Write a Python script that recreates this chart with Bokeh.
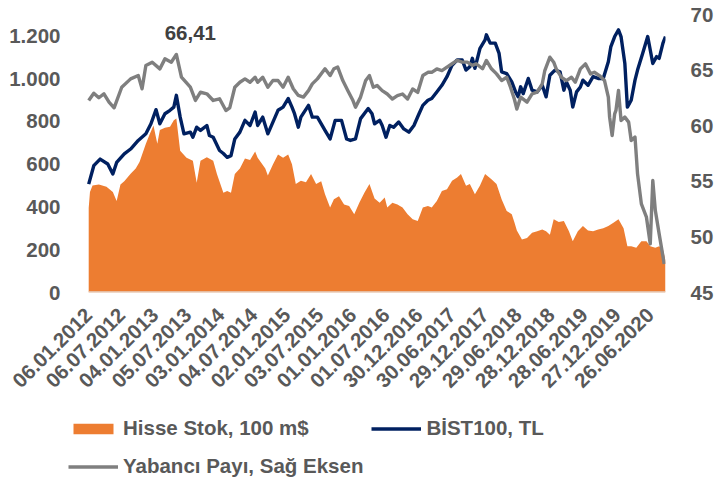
import math
import pandas as pd
from bokeh.plotting import figure
from bokeh.layouts import column
from bokeh.models import Range1d, LinearAxis, FixedTicker, Legend, LegendItem, ColumnDataSource
from bokeh.core.properties import value
from bokeh.embed import file_html
from bokeh.resources import INLINE

# ---------------- data (weekly, x = weeks since 06.01.2012) ----------------
tick_labels = ["06.01.2012", "06.07.2012", "04.01.2013", "05.07.2013", "03.01.2014",
               "04.07.2014", "02.01.2015", "03.07.2015", "01.01.2016", "01.07.2016",
               "30.12.2016", "30.06.2017", "29.12.2017", "29.06.2018", "28.12.2018",
               "28.06.2019", "27.12.2019", "26.06.2020"]

stok_weeks = [0, 1, 3, 8, 14, 19, 22, 25, 28, 33, 37, 40, 45, 48, 51, 54, 56, 60, 64, 67, 69,
              72, 77, 82, 85, 88, 93, 98, 101, 106, 109, 112, 115, 119, 123, 127, 131, 133, 139,
              141, 145, 149, 153, 157, 160, 163, 167, 171, 175, 179, 183, 186, 190, 193, 197,
              201, 205, 209, 213, 217, 221, 225, 229, 233, 235, 239, 243, 247, 251, 255, 259,
              263, 267, 270, 274, 278, 282, 286, 290, 293, 297, 300, 304, 308, 312, 317, 321,
              325, 329, 333, 335, 337, 341, 345, 349, 353, 357, 360, 363, 366, 370, 374, 378,
              381, 385, 389, 393, 397, 401, 405, 409, 413, 417, 421, 424, 427, 431, 435, 439,
              442, 446, 449, 452, 454]
stok_values = [395, 470, 500, 505, 495, 470, 428, 505, 520, 555, 580, 610, 696, 740, 781, 696,
               760, 770, 775, 805, 814, 663, 630, 616, 513, 616, 632, 616, 553, 466, 475, 466,
               554, 580, 627, 620, 659, 630, 580, 547, 599, 645, 630, 645, 600, 507, 523, 515,
               554, 507, 520, 460, 397, 436, 450, 412, 405, 366, 420, 466, 507, 440, 420, 444,
               397, 420, 412, 397, 366, 342, 334, 397, 405, 397, 428, 475, 483, 522, 538, 554,
               499, 507, 460, 500, 554, 530, 507, 436, 381, 366, 330, 290, 248, 255, 279, 287,
               295, 287, 270, 342, 330, 334, 287, 240, 287, 311, 290, 287, 295, 300, 311, 326,
               342, 300, 216, 216, 209, 240, 240, 216, 209, 216, 201, 150]

bist_weeks = [0, 4, 9, 15, 19, 22, 28, 33, 39, 45, 49, 53, 56, 60, 64, 67, 69, 72, 75, 80, 82,
              85, 88, 93, 95, 98, 103, 106, 109, 112, 115, 119, 123, 127, 131, 133, 137, 141,
              145, 149, 153, 157, 160, 162, 165, 167, 173, 176, 180, 186, 190, 194, 199, 203,
              206, 210, 214, 220, 223, 225, 229, 231, 234, 237, 240, 244, 248, 252, 256, 260,
              263, 267, 270, 274, 278, 282, 286, 290, 294, 297, 300, 302, 304, 308, 312, 313,
              316, 320, 323, 325, 329, 333, 336, 338, 340, 342, 346, 349, 353, 357, 360, 363,
              367, 371, 374, 376, 379, 381, 384, 387, 389, 393, 397, 401, 405, 409, 411, 414,
              417, 419, 422, 424, 427, 430, 432, 436, 440, 444, 447, 449, 452, 454]
bist_values = [507, 593, 624, 601, 554, 608, 648, 671, 711, 742, 789, 855, 789, 836, 852, 867,
               922, 820, 742, 750, 726, 773, 758, 781, 734, 726, 664, 650, 632, 640, 718, 750,
               805, 781, 844, 781, 820, 742, 797, 852, 867, 907, 867, 836, 773, 820, 875, 820,
               820, 758, 718, 805, 805, 718, 711, 718, 813, 860, 836, 789, 805, 781, 726, 781,
               773, 797, 765, 750, 781, 836, 875, 899, 907, 938, 969, 1009, 1063, 1087, 1087,
               1040, 1056, 1095, 1048, 1142, 1181, 1205, 1166, 1166, 1118, 1032, 1024, 985, 938,
               915, 962, 930, 1001, 946, 938, 969, 915, 1016, 1040, 1032, 946, 985, 946, 867,
               938, 961, 993, 969, 1009, 1001, 1001, 1079, 1150, 1197, 1228, 1197, 1071, 867,
               899, 993, 1040, 1118, 1197, 1071, 1103, 1095, 1166, 1197]

pay_weeks = [0, 4, 8, 12, 16, 20, 26, 33, 39, 42, 45, 50, 56, 60, 65, 69, 73, 80, 84, 88, 93,
             98, 103, 108, 111, 115, 119, 123, 127, 131, 133, 137, 141, 145, 149, 153, 157, 161,
             165, 169, 173, 176, 180, 186, 190, 193, 196, 200, 204, 208, 210, 214, 218, 221, 224,
             227, 231, 235, 239, 243, 247, 251, 255, 259, 263, 267, 270, 274, 278, 282, 286, 290,
             294, 298, 302, 305, 310, 313, 317, 321, 325, 329, 332, 335, 337, 340, 345, 349, 353,
             357, 359, 363, 366, 368, 372, 376, 380, 383, 387, 391, 395, 398, 402, 406, 409, 410,
             412, 414, 415, 417, 419, 422, 425, 427, 430, 432, 435, 439, 442, 444, 446, 449, 453]
pay_values = [62.27, 62.92, 62.51, 62.87, 62.12, 61.61, 63.46, 64.21, 64.51, 63.32, 65.41, 65.71,
              65.11, 66.01, 65.71, 66.41, 64.36, 63.46, 62.27, 63.01, 62.87, 62.27, 62.42, 61.37,
              61.6, 63.46, 63.91, 64.21, 63.91, 64.36, 63.91, 64.36, 63.46, 64.06, 64.06, 63.46,
              64.36, 63.32, 62.72, 62.57, 63.15, 63.76, 64.21, 65.12, 64.51, 65.12, 65.27, 64.06,
              63.15, 62.26, 61.67, 62.57, 64.06, 64.5, 63.46, 63.61, 63.15, 62.85, 62.4, 62.7,
              62.85, 62.4, 63.3, 63.0, 64.51, 64.8, 64.8, 65.1, 64.95, 65.27, 65.57, 65.87, 65.72,
              65.72, 65.42, 65.57, 65.12, 65.87, 65.12, 64.66, 64.06, 64.36, 63.46, 62.4, 61.5,
              62.57, 62.12, 62.87, 63.01, 63.77, 64.96, 66.16, 65.71, 65.11, 64.36, 64.06, 64.36,
              63.91, 65.11, 65.56, 64.66, 64.81, 64.51, 64.06, 62.57, 60.77, 59.12, 61.07, 61.37,
              63.17, 60.47, 60.77, 60.32, 58.67, 58.97, 55.67, 52.97, 51.77, 49.37, 55.07, 52.37,
              50.27, 47.57]

left_ticks = [0, 200, 400, 600, 800, 1000, 1200]
right_ticks = [45, 50, 55, 60, 65, 70]
legend_labels = ["Hisse Stok, 100 m$", "BİST100, TL", "Yabancı Payı, Sağ Eksen"]

# ---------------- styling ----------------
FONT = "Liberation Sans"
FS = "20.5px"
LBL = "#595959"
ORANGE = "#ED7D31"
NAVY = "#002060"
GRAY = "#7F7F7F"
BORDER_L, BORDER_R = 68, 48

dates = pd.to_datetime(tick_labels, format="%d.%m.%Y")
tick_weeks = [int(round((d - dates[0]).days / 7)) for d in dates]

src_s = ColumnDataSource(dict(w=stok_weeks, v=stok_values))
src_b = ColumnDataSource(dict(w=bist_weeks, v=bist_values))
src_p = ColumnDataSource(dict(w=pay_weeks, v=pay_values))

# ---------------- main chart ----------------
p = figure(width=716, height=412, output_backend="svg", toolbar_location=None,
           x_range=Range1d(-15.9, 454), y_range=Range1d(0, 1300),
           min_border_left=BORDER_L, min_border_right=BORDER_R,
           min_border_top=14, min_border_bottom=120)
p.outline_line_color = None
p.grid.visible = False
p.background_fill_color = "white"
p.border_fill_color = "white"
p.extra_y_ranges = {"right": Range1d(45, 70)}

def style_axis(ax):
    ax.major_label_text_font = FONT
    ax.major_label_text_font_style = "bold"
    ax.major_label_text_font_size = FS
    ax.major_label_text_color = LBL
    ax.major_tick_line_color = None
    ax.minor_tick_line_color = None
    ax.axis_line_color = None

xa = p.xaxis[0]
xa.ticker = FixedTicker(ticks=tick_weeks)
xa.major_label_overrides = {w: t for w, t in zip(tick_weeks, tick_labels)}
xa.major_label_orientation = math.pi / 4
style_axis(xa)
xa.major_label_standoff = 13

ya = p.yaxis[0]
ya.ticker = FixedTicker(ticks=left_ticks)
ya.major_label_overrides = {t: f"{t:,}".replace(",", ".") for t in left_ticks}
style_axis(ya)
ya.major_label_standoff = 2

ra = LinearAxis(y_range_name="right", ticker=FixedTicker(ticks=right_ticks))
style_axis(ra)
ra.major_label_standoff = 19
p.add_layout(ra, "right")

area = p.varea(x="w", y1=0, y2="v", source=src_s, fill_color=ORANGE)
# category-axis base line, spanning the data only
p.line(x=[stok_weeks[0], stok_weeks[-1]], y=[left_ticks[0], left_ticks[0]],
       line_color="#E3D2C6", line_width=2.5)
navy = p.line(x="w", y="v", source=src_b, line_color=NAVY, line_width=3.4, line_join="round")
gray = p.line(x="w", y="v", source=src_p, y_range_name="right", line_color=GRAY,
              line_width=3.4, line_join="round")

# data label at the peak of the foreign share
i_max = max(range(len(pay_values)), key=lambda i: pay_values[i])
peak_txt = f"{pay_values[i_max]:.2f}".replace(".", ",")
p.text(x=[pay_weeks[i_max]], y=[pay_values[i_max]], text=[peak_txt], y_range_name="right",
       text_font=value(FONT), text_font_style="bold", text_font_size=FS,
       text_color="#404040", text_align="center", text_baseline="middle",
       x_offset=14, y_offset=-21)

# ---------------- legend strip (keys of the same three series) ----------------
lf = figure(width=716, height=70, output_backend="svg", toolbar_location=None,
            x_range=Range1d(-15.9, 454), y_range=Range1d(0, 1300),
            x_axis_type=None, y_axis_type=None,
            min_border_left=BORDER_L, min_border_right=BORDER_R,
            min_border_top=0, min_border_bottom=0)
lf.outline_line_color = None
lf.grid.visible = False
lf.border_fill_color = "white"
lf.extra_y_ranges = {"right": Range1d(45, 70)}
k_area = lf.varea(x="w", y1=0, y2="v", source=src_s, fill_color=ORANGE, visible=False)
k_navy = lf.line(x="w", y="v", source=src_b, line_color=NAVY, line_width=3.4, visible=False)
k_gray = lf.line(x="w", y="v", source=src_p, y_range_name="right", line_color=GRAY,
                 line_width=3.4, visible=False)

leg = Legend(items=[LegendItem(label=legend_labels[0], renderers=[k_area]),
                    LegendItem(label=legend_labels[1], renderers=[k_navy]),
                    LegendItem(label=legend_labels[2], renderers=[k_gray])],
             orientation="horizontal", ncols=2, location=(0, 1),
             glyph_width=50, glyph_height=13, label_height=30, spacing=8,
             padding=0, margin=0, label_standoff=5,
             border_line_color=None, background_fill_alpha=0,
             label_text_font=FONT, label_text_font_style="bold",
             label_text_font_size=FS, label_text_color=LBL)
lf.add_layout(leg)

open("out.html", "w").write(file_html(column(p, lf, spacing=0), INLINE))
